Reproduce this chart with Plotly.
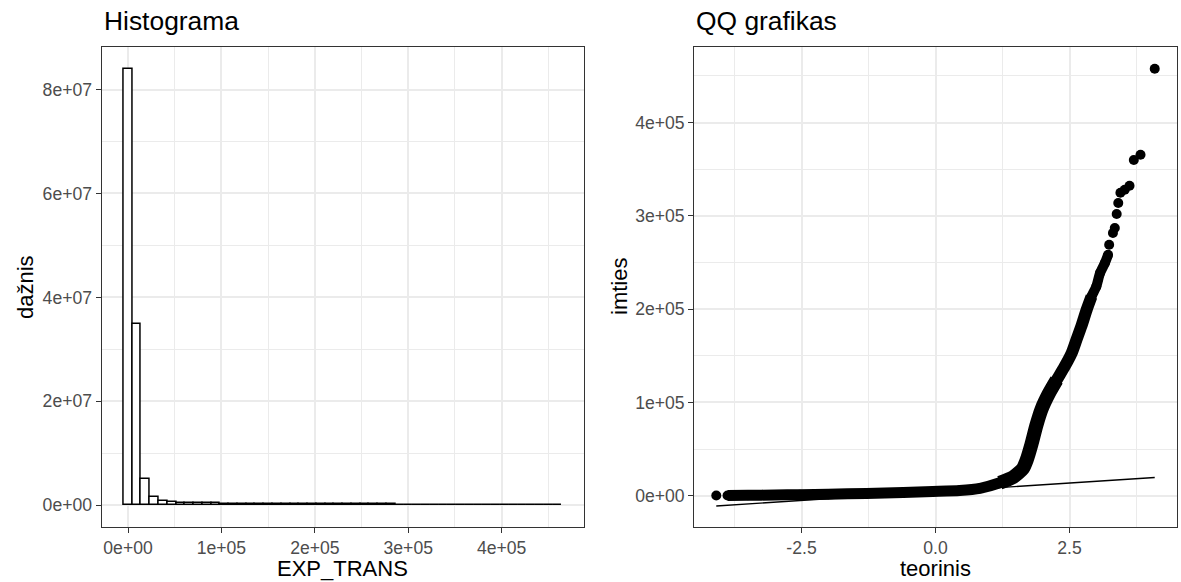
import plotly.graph_objects as go

# ---------------- data ----------------
hist_bin_width = 9388
hist_counts = [
    84.0e6, 34.9e6, 5.0e6, 1.48e6, 0.83e6, 0.58e6, 0.45e6, 0.40e6, 0.37e6, 0.35e6,
    0.33e6, 0.31e6, 0.29e6, 0.27e6, 0.26e6, 0.25e6, 0.24e6, 0.23e6, 0.22e6, 0.21e6,
    0.20e6, 0.19e6, 0.18e6, 0.17e6, 0.165e6, 0.16e6, 0.155e6, 0.15e6, 0.145e6, 0.14e6,
    0.135e6, 0.13e6, 0.125e6, 0.12e6, 0.115e6, 0.11e6, 0.105e6, 0.10e6, 0.095e6, 0.09e6,
    0.085e6, 0.08e6, 0.075e6, 0.07e6, 0.065e6, 0.06e6, 0.055e6, 0.05e6, 0.045e6, 0.04e6,
]

qq_theoretical = [
    -4.09, -3.88, -3.5, -3.0, -2.53, -2.0, -1.29, -0.6, -0.05, 0.45,
    0.83, 1.20, 1.45, 1.63, 1.70, 1.79, 1.88, 1.98, 2.11, 2.26,
    2.41, 2.54, 2.63, 2.72, 2.82, 2.91, 3.00, 3.07, 3.16, 3.22,
    3.24, 3.31, 3.345, 3.38, 3.41, 3.45, 3.53, 3.62, 3.70, 3.825,
    4.09,
]
qq_sample = [
    200, 300, 500, 800, 1100, 1600, 2500, 3500, 4600, 5700,
    8000, 13900, 20000, 29000, 38000, 55000, 75000, 93000, 109000, 124000,
    138600, 152900, 167200, 181500, 199400, 213600, 224300, 238700, 249400, 258300,
    269000, 281600, 286900, 302000, 313700, 324800, 328000, 332300, 359800, 365500,
    457700,
]
qq_line_x = [-4.09, 4.09]
qq_line_y = [-10960, 19560]

hist_xticks = [0, 1e5, 2e5, 3e5, 4e5]
hist_xlabels = ["0e+00", "1e+05", "2e+05", "3e+05", "4e+05"]
hist_xminor = [5e4, 1.5e5, 2.5e5, 3.5e5, 4.5e5]
hist_yticks = [0, 2e7, 4e7, 6e7, 8e7]
hist_ylabels = ["0e+00", "2e+07", "4e+07", "6e+07", "8e+07"]
hist_yminor = [1e7, 3e7, 5e7, 7e7]

qq_xticks = [-2.5, 0.0, 2.5]
qq_xlabels = ["-2.5", "0.0", "2.5"]
qq_xminor = [-3.75, -1.25, 1.25, 3.75]
qq_yticks = [0, 1e5, 2e5, 3e5, 4e5]
qq_ylabels = ["0e+00", "1e+05", "2e+05", "3e+05", "4e+05"]
qq_yminor = [5e4, 1.5e5, 2.5e5, 3.5e5, 4.5e5]

# ---------------- layout helpers ----------------
W, H = 1181, 582
FONT = "Liberation Sans, Arial, Helvetica, sans-serif"


def px(x):
    return x / W


def py(y):
    return 1 - y / H


hist_centers = [i * hist_bin_width for i in range(len(hist_counts))]

fig = go.Figure()

fig.add_trace(go.Bar(
    x=hist_centers, y=hist_counts, width=hist_bin_width,
    marker=dict(color="white", line=dict(color="black", width=1.5)),
    xaxis="x", yaxis="y", showlegend=False, hoverinfo="x+y",
))

# dense band of overlapping QQ points, drawn as thick strokes through the read points
band_segments = [(1, 14, 11), (11, 20, 14), (18, 26, 12), (24, 30, 10)]
for a, b, w in band_segments:
    fig.add_trace(go.Scatter(
        x=qq_theoretical[a:b], y=qq_sample[a:b], mode="lines",
        line=dict(color="black", width=w, shape="spline", smoothing=0.6),
        xaxis="x2", yaxis="y2", showlegend=False, hoverinfo="skip",
    ))

fig.add_trace(go.Scatter(
    x=qq_theoretical, y=qq_sample, mode="markers",
    marker=dict(color="black", size=10), xaxis="x2", yaxis="y2",
    showlegend=False,
))
fig.add_trace(go.Scatter(
    x=qq_line_x, y=qq_line_y, mode="lines",
    line=dict(color="black", width=1.4), xaxis="x2", yaxis="y2",
    showlegend=False,
))

tickfont = dict(family=FONT, size=17.6, color="#4D4D4D")
grid_major = "#EBEBEB"


def axis(domain, rng, tickvals, ticktext, minor_vals, anchor):
    return dict(
        domain=domain, range=rng, anchor=anchor,
        tickmode="array", tickvals=tickvals, ticktext=ticktext,
        showgrid=True, gridcolor=grid_major, gridwidth=1.5,
        minor=dict(tickmode="array", tickvals=minor_vals, showgrid=True,
                   gridcolor=grid_major, gridwidth=0.8, ticks=""),
        zeroline=False, showline=True, mirror=True,
        linecolor="#333333", linewidth=1.3,
        ticks="outside", ticklen=5, tickwidth=1.3, tickcolor="#333333",
        tickfont=tickfont, fixedrange=True,
    )


x1_dom = [px(101.7), px(584)]
x2_dom = [px(694.3), px(1176.7)]
y_dom = [py(527), py(47)]

fig.update_layout(
    width=W, height=H, margin=dict(l=0, r=0, t=0, b=0),
    paper_bgcolor="white", plot_bgcolor="white",
    bargap=0, showlegend=False,
    font=dict(family=FONT),
    xaxis=axis(x1_dom, [-28163, 488163], hist_xticks, hist_xlabels, hist_xminor, "y"),
    yaxis=axis(y_dom, [-4.2e6, 8.82e7], hist_yticks, hist_ylabels, hist_yminor, "x"),
    xaxis2=axis(x2_dom, [-4.5, 4.5], qq_xticks, qq_xlabels, qq_xminor, "y2"),
    yaxis2=axis(y_dom, [-33500, 481000], qq_yticks, qq_ylabels, qq_yminor, "x2"),
)

title_font = dict(family=FONT, size=26.4, color="black")
axis_title_font = dict(family=FONT, size=22, color="black")
annotations = [
    dict(text="Histograma", x=px(101.7), y=py(21), xanchor="left", yanchor="middle", font=title_font),
    dict(text="QQ grafikas", x=px(694.3), y=py(21), xanchor="left", yanchor="middle", font=title_font),
    dict(text="EXP_TRANS", x=px((101.7 + 584) / 2), y=py(568), xanchor="center", yanchor="middle", font=axis_title_font),
    dict(text="teorinis", x=px((694.3 + 1176.7) / 2), y=py(568), xanchor="center", yanchor="middle", font=axis_title_font),
    dict(text="dažnis", x=px(25), y=py(287), xanchor="center", yanchor="middle", textangle=-90, font=axis_title_font),
    dict(text="imties", x=px(619), y=py(287), xanchor="center", yanchor="middle", textangle=-90, font=axis_title_font),
]
for a in annotations:
    a.update(xref="paper", yref="paper", showarrow=False)
fig.update_layout(annotations=annotations)

fig.write_html("out.html")
